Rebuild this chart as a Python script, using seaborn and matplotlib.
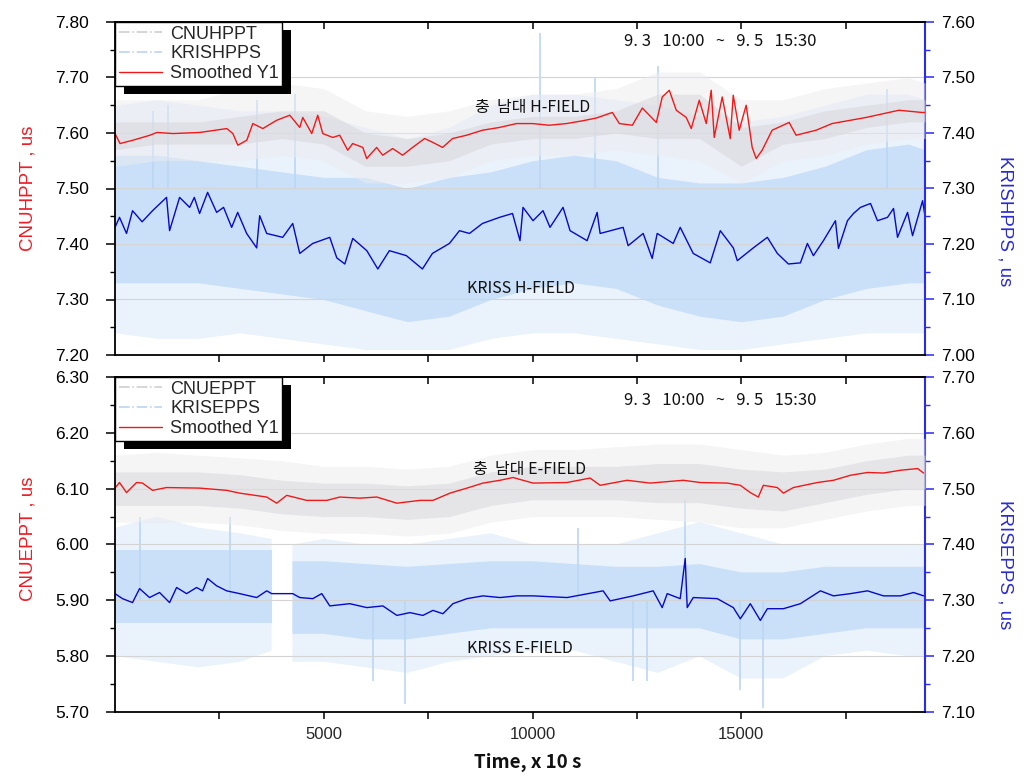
import numpy as np
import matplotlib
matplotlib.use("Agg")
import matplotlib.pyplot as plt
import seaborn as sns
from matplotlib.lines import Line2D
from matplotlib.patches import Rectangle
from matplotlib.transforms import IdentityTransform
from matplotlib.ticker import MultipleLocator, FixedLocator, FormatStrFormatter

# ---------------- data ----------------
X_MAX = 19400
x_major = [5000, 10000, 15000]
x_minor = [2500, 7500, 12500, 17500]

# envelope grid for the raw (noisy) records
x_env = [0, 1000, 2000, 3000, 4000, 5000, 6000, 7000, 8000, 9000, 10000,
         11000, 12000, 13000, 14000, 15000, 16000, 17000, 18000, 19000, 19400]

# ---- top panel (H-FIELD) ----
# CNUHPPT raw envelope (left axis, us)
cnuh_core_hi = [7.62, 7.62, 7.62, 7.63, 7.64, 7.64, 7.60, 7.59, 7.60, 7.62, 7.63,
                7.63, 7.64, 7.67, 7.67, 7.61, 7.62, 7.64, 7.65, 7.66, 7.66]
cnuh_core_lo = [7.57, 7.58, 7.58, 7.58, 7.59, 7.58, 7.54, 7.54, 7.55, 7.58, 7.59,
                7.59, 7.60, 7.59, 7.59, 7.54, 7.58, 7.59, 7.61, 7.62, 7.62]
cnuh_out_hi = [7.66, 7.66, 7.66, 7.68, 7.69, 7.68, 7.64, 7.63, 7.64, 7.66, 7.67,
               7.67, 7.68, 7.71, 7.71, 7.66, 7.66, 7.68, 7.69, 7.70, 7.69]
cnuh_out_lo = [7.54, 7.55, 7.55, 7.55, 7.56, 7.55, 7.51, 7.51, 7.52, 7.55, 7.56,
               7.56, 7.57, 7.56, 7.55, 7.51, 7.55, 7.56, 7.58, 7.59, 7.59]
# KRISHPPS raw envelope (right axis, us)
krish_core_hi = [7.36, 7.36, 7.35, 7.34, 7.33, 7.32, 7.32, 7.30, 7.32, 7.33, 7.35,
                 7.36, 7.35, 7.32, 7.31, 7.31, 7.32, 7.34, 7.37, 7.38, 7.37]
krish_core_lo = [7.13, 7.13, 7.13, 7.12, 7.11, 7.10, 7.08, 7.06, 7.07, 7.10, 7.12,
                 7.13, 7.12, 7.09, 7.07, 7.06, 7.07, 7.10, 7.12, 7.13, 7.13]
krish_out_hi = [7.45, 7.46, 7.45, 7.44, 7.44, 7.43, 7.41, 7.39, 7.41, 7.45, 7.47,
                7.47, 7.46, 7.45, 7.43, 7.42, 7.43, 7.45, 7.47, 7.47, 7.46]
krish_out_lo = [7.04, 7.03, 7.03, 7.04, 7.03, 7.02, 7.01, 7.01, 7.01, 7.03, 7.04,
                7.04, 7.03, 7.02, 7.01, 7.01, 7.02, 7.03, 7.04, 7.04, 7.04]
# isolated tall KRISHPPS spikes (x, low end, high end; right axis)
krish_spike_x = [900, 1270, 3390, 4300, 10180, 11500, 13000, 18500]
krish_spike_lo = [7.30, 7.30, 7.30, 7.30, 7.30, 7.30, 7.30, 7.30]
krish_spike_hi = [7.44, 7.45, 7.46, 7.47, 7.58, 7.50, 7.52, 7.48]

# Smoothed CNUHPPT (left axis)
h_red_x = [0, 120, 430, 837, 1005, 1387, 2033, 2679, 2823, 2943, 3157, 3301, 3540,
           3875, 4186, 4425, 4497, 4712, 4856, 4976, 5215, 5382, 5574, 5693, 5935,
           6028, 6267, 6411, 6650, 6889, 7128, 7415, 7614, 7846, 8085, 8420, 8803,
           9209, 9616, 9999, 10400, 10812, 11200, 11530, 11912, 12080, 12391, 12630,
           12965, 13108, 13276, 13443, 13682, 13802, 13993, 14161, 14280, 14352,
           14543, 14735, 14807, 14950, 15117, 15261, 15357, 15500, 15739, 16146,
           16313, 16791, 17175, 17988, 18777, 19327, 19400]
h_red_y = [7.599, 7.581, 7.587, 7.596, 7.601, 7.599, 7.601, 7.608, 7.599, 7.578,
           7.587, 7.617, 7.608, 7.623, 7.632, 7.610, 7.628, 7.599, 7.632, 7.599,
           7.592, 7.596, 7.569, 7.581, 7.574, 7.554, 7.574, 7.560, 7.572, 7.560,
           7.574, 7.590, 7.583, 7.574, 7.590, 7.596, 7.605, 7.610, 7.617, 7.617,
           7.614, 7.617, 7.622, 7.627, 7.637, 7.617, 7.614, 7.645, 7.619, 7.665,
           7.677, 7.641, 7.628, 7.608, 7.659, 7.617, 7.677, 7.592, 7.665, 7.590,
           7.668, 7.605, 7.650, 7.574, 7.554, 7.569, 7.605, 7.619, 7.596, 7.605,
           7.617, 7.628, 7.641, 7.637, 7.637]
# Smoothed KRISHPPS (right axis)
h_blue_x = [0, 108, 276, 420, 650, 899, 1235, 1307, 1547, 1787, 1900, 2026, 2218,
            2434, 2600, 2794, 2938, 3153, 3393, 3465, 3633, 4017, 4257, 4425, 4736,
            5144, 5312, 5504, 5695, 6031, 6295, 6571, 6979, 7363, 7602, 8010, 8250,
            8490, 8801, 9209, 9521, 9700, 9772, 10012, 10251, 10419, 10731, 10899,
            11307, 11547, 11619, 12170, 12290, 12650, 12866, 12986, 13370, 13537,
            13849, 14257, 14497, 14809, 14905, 15288, 15624, 15864, 16128, 16416,
            16583, 16727, 16967, 17255, 17327, 17543, 17687, 17855, 18095, 18262,
            18502, 18646, 18742, 18982, 19102, 19342, 19400]
h_blue_y = [7.230, 7.248, 7.219, 7.260, 7.240, 7.260, 7.284, 7.224, 7.284, 7.266,
            7.284, 7.255, 7.293, 7.257, 7.266, 7.230, 7.257, 7.219, 7.193, 7.251,
            7.219, 7.212, 7.237, 7.183, 7.201, 7.212, 7.175, 7.164, 7.210, 7.188,
            7.155, 7.188, 7.179, 7.155, 7.183, 7.201, 7.224, 7.219, 7.237, 7.248,
            7.255, 7.206, 7.266, 7.242, 7.260, 7.230, 7.266, 7.224, 7.206, 7.257,
            7.219, 7.230, 7.197, 7.219, 7.174, 7.219, 7.201, 7.230, 7.183, 7.166,
            7.224, 7.193, 7.170, 7.193, 7.212, 7.183, 7.164, 7.166, 7.201, 7.179,
            7.206, 7.242, 7.192, 7.242, 7.255, 7.266, 7.273, 7.242, 7.248, 7.264,
            7.212, 7.257, 7.215, 7.278, 7.250]

# ---- bottom panel (E-FIELD) ----
cnue_core_hi = [6.13, 6.13, 6.13, 6.125, 6.115, 6.11, 6.11, 6.105, 6.11, 6.13, 6.14,
                6.14, 6.14, 6.145, 6.145, 6.135, 6.13, 6.135, 6.15, 6.16, 6.16]
cnue_core_lo = [6.07, 6.07, 6.07, 6.065, 6.055, 6.05, 6.05, 6.045, 6.05, 6.07, 6.08,
                6.08, 6.08, 6.075, 6.075, 6.065, 6.06, 6.075, 6.09, 6.10, 6.10]
cnue_out_hi = [6.16, 6.165, 6.16, 6.155, 6.15, 6.14, 6.14, 6.135, 6.14, 6.16, 6.17,
               6.17, 6.175, 6.18, 6.18, 6.17, 6.16, 6.165, 6.18, 6.19, 6.19]
cnue_out_lo = [6.04, 6.04, 6.04, 6.035, 6.025, 6.02, 6.02, 6.015, 6.02, 6.04, 6.05,
               6.05, 6.05, 6.045, 6.04, 6.03, 6.03, 6.045, 6.06, 6.07, 6.07]

# KRISEPPS raw envelope (right axis); no record between ~3750 and ~4250
x_env_k = [0, 1000, 2000, 3000, 3750, 4000, 4250, 5000, 6000, 7000, 8000, 9000,
           10000, 11000, 12000, 13000, 14000, 15000, 16000, 17000, 18000, 19000, 19400]
krise_core_hi = [7.39, 7.39, 7.39, 7.39, 7.39, np.nan, 7.37, 7.37, 7.365, 7.36, 7.365,
                 7.37, 7.37, 7.365, 7.36, 7.36, 7.365, 7.35, 7.35, 7.36, 7.36, 7.36, 7.36]
krise_core_lo = [7.26, 7.26, 7.26, 7.26, 7.26, np.nan, 7.24, 7.24, 7.23, 7.23, 7.24,
                 7.25, 7.25, 7.25, 7.25, 7.25, 7.25, 7.23, 7.23, 7.24, 7.25, 7.25, 7.25]
krise_out_hi = [7.43, 7.45, 7.43, 7.42, 7.41, np.nan, 7.40, 7.41, 7.40, 7.40, 7.41,
                7.42, 7.40, 7.40, 7.40, 7.42, 7.44, 7.42, 7.40, 7.40, 7.40, 7.40, 7.40]
krise_out_lo = [7.20, 7.19, 7.18, 7.19, 7.21, np.nan, 7.19, 7.19, 7.18, 7.17, 7.19,
                7.20, 7.21, 7.21, 7.19, 7.17, 7.20, 7.16, 7.16, 7.20, 7.21, 7.20, 7.20]
# isolated KRISEPPS spikes (x, low end, high end; right axis)
krise_spike_x = [600, 2750, 6175, 6940, 11100, 12400, 12750, 13660, 14970, 15530]
krise_spike_lo = [7.30, 7.30, 7.156, 7.114, 7.30, 7.156, 7.156, 7.30, 7.140, 7.107]
krise_spike_hi = [7.45, 7.45, 7.30, 7.30, 7.43, 7.30, 7.30, 7.48, 7.30, 7.30]

e_red_x = [0, 108, 276, 516, 659, 899, 1235, 2026, 2674, 2986, 3633, 3873, 4113,
           4592, 5072, 5384, 5863, 6271, 6751, 7302, 7614, 8022, 8429, 8813, 9221,
           9533, 10012, 10827, 11379, 11619, 12266, 12818, 13609, 14017, 14665,
           14977, 15216, 15408, 15528, 15864, 16008, 16248, 16823, 17207, 17615,
           18023, 18406, 18814, 19222, 19366]
e_red_y = [6.101, 6.111, 6.093, 6.111, 6.110, 6.097, 6.102, 6.101, 6.097, 6.092,
           6.085, 6.074, 6.088, 6.079, 6.079, 6.085, 6.083, 6.085, 6.074, 6.079,
           6.079, 6.092, 6.101, 6.110, 6.115, 6.120, 6.110, 6.111, 6.119, 6.106,
           6.115, 6.110, 6.115, 6.111, 6.110, 6.106, 6.093, 6.085, 6.106, 6.102,
           6.092, 6.102, 6.111, 6.115, 6.124, 6.129, 6.128, 6.133, 6.136, 6.128]
e_blue_x = [0, 180, 420, 588, 827, 1067, 1307, 1475, 1715, 1954, 2098, 2218, 2434,
            2674, 2986, 3393, 3633, 3753, 4257, 4425, 4736, 4952, 5144, 5623, 6031,
            6415, 6751, 7063, 7374, 7614, 7854, 8094, 8429, 8813, 9221, 9629, 10012,
            10827, 11691, 11859, 12410, 12890, 13106, 13226, 13537, 13657, 13705,
            13849, 14425, 14809, 14977, 15216, 15456, 15624, 16008, 16416, 16895,
            17207, 17615, 18023, 18406, 18814, 19126, 19366]
e_blue_y = [7.312, 7.303, 7.296, 7.321, 7.305, 7.314, 7.296, 7.323, 7.312, 7.323,
            7.317, 7.339, 7.326, 7.317, 7.312, 7.305, 7.317, 7.312, 7.312, 7.305,
            7.303, 7.312, 7.290, 7.294, 7.287, 7.290, 7.273, 7.278, 7.273, 7.282,
            7.276, 7.294, 7.303, 7.308, 7.305, 7.308, 7.308, 7.305, 7.317, 7.299,
            7.308, 7.317, 7.287, 7.312, 7.303, 7.375, 7.287, 7.305, 7.303, 7.287,
            7.267, 7.294, 7.264, 7.285, 7.285, 7.294, 7.317, 7.308, 7.312, 7.317,
            7.308, 7.308, 7.314, 7.308]

# ---------------- styling ----------------
sns.set_theme(style="white")
plt.rcParams["font.family"] = ["Liberation Sans", "Noto Sans CJK KR", "DejaVu Sans"]
plt.rcParams["ytick.major.pad"] = 12
plt.rcParams["xtick.major.pad"] = 6
KR = ["Noto Sans CJK KR", "DejaVu Sans"]

RED = "#f01818"
BLUE = "#0808c8"
AXBLUE = "#2a2af0"
GRAY_CORE = "#d8d8dc"
GRAY_OUT = "#ececef"
LB_CORE = "#c9e0f8"
LB_OUT = "#eaf2fc"
LB_SPIKE = "#bcd6f3"

fig = plt.figure(figsize=(10.33, 7.79), dpi=100)
fig.patch.set_facecolor("white")


def panel(rect, yl, yr, cnu, kris, spikes, red, blue, names, ylab_l, ylab_r,
          lab_l_y, lab_r_y, texts, bottom_labels):
    ax = fig.add_axes(rect)
    ax2 = ax.twinx()
    ax.set_zorder(3)
    ax.patch.set_visible(False)
    ax2.set_facecolor("white")

    # KRIS raw envelope + spikes + smoothed (right axis)
    kx, kc_hi, kc_lo, ko_hi, ko_lo = kris
    ax2.fill_between(kx, ko_lo, ko_hi, color=LB_OUT, lw=0, zorder=0.5)
    ax2.fill_between(kx, kc_lo, kc_hi, color=LB_CORE, lw=0, zorder=0.6)
    sx, slo, shi = spikes
    ax2.vlines(sx, slo, shi, color=LB_SPIKE, lw=1.2, zorder=0.7)
    sns.lineplot(x=blue[0], y=blue[1], ax=ax2, color=BLUE, lw=1.0, estimator=None,
                 legend=False, zorder=2)

    # CNU raw envelope + smoothed (left axis)
    cx, cc_hi, cc_lo, co_hi, co_lo = cnu
    ax.fill_between(cx, co_lo, co_hi, color=GRAY_OUT, lw=0, alpha=0.5, zorder=0.5)
    ax.fill_between(cx, cc_lo, cc_hi, color=GRAY_CORE, lw=0, alpha=0.55, zorder=0.6)
    sns.lineplot(x=red[0], y=red[1], ax=ax, color=RED, lw=1.0, estimator=None,
                 legend=False, zorder=2)

    ax.set_xlim(0, X_MAX)
    ax.set_ylim(*yl)
    ax2.set_ylim(*yr)

    # grid (drawn on the right-hand axes, same positions, above the raw bands)
    ax.grid(False)
    ax2.set_axisbelow("line")
    ax2.grid(True, axis="y", which="major", color="#d4d4d4", lw=0.8)
    ax2.grid(False, axis="x")

    # spines
    for s in ["left", "bottom", "top"]:
        ax.spines[s].set_color("black")
        ax.spines[s].set_linewidth(1.3)
    ax.spines["right"].set_visible(False)
    for s in ["left", "bottom", "top"]:
        ax2.spines[s].set_visible(False)
    ax2.spines["right"].set_color(AXBLUE)
    ax2.spines["right"].set_linewidth(1.5)

    # x ticks
    ax.xaxis.set_major_locator(FixedLocator(x_major))
    ax.xaxis.set_minor_locator(FixedLocator(x_minor))
    ax.tick_params(axis="x", which="both", bottom=True, top=False, direction="out",
                   length=5, width=1.1, color="black", labelsize=12,
                   labelbottom=bottom_labels)
    sec = ax.secondary_xaxis("top")
    sec.set_xticks(x_major + x_minor)
    sec.tick_params(axis="x", direction="in", length=5, width=1.1, color="black",
                    labeltop=False)
    sec.spines["top"].set_linewidth(1.3)

    # y ticks
    for a, col in [(ax, "black"), (ax2, AXBLUE)]:
        a.yaxis.set_major_locator(MultipleLocator(0.1))
        a.yaxis.set_minor_locator(MultipleLocator(0.05))
        a.yaxis.set_major_formatter(FormatStrFormatter("%.2f"))
        a.tick_params(axis="y", which="major", length=6.5, width=1.1, direction="out",
                      color=col, labelcolor="black", labelsize=12.5)
        a.tick_params(axis="y", which="minor", length=3.5, width=1.0, direction="out",
                      color=col)
    ax.tick_params(axis="y", which="both", left=True, right=False)
    ax2.tick_params(axis="y", which="both", right=True, left=False)
    ax.yaxis.set_tick_params(which="major", pad=12)
    ax2.yaxis.set_tick_params(which="major", pad=5)

    # axis labels
    ax.set_ylabel(ylab_l, color="#ee1c25", fontsize=13.5, va="center")
    ax.yaxis.set_label_coords(-0.1074, lab_l_y)
    ax2.set_ylabel(ylab_r, color="#2b2bd6", fontsize=13.5, rotation=270, va="center")
    ax2.yaxis.set_label_coords(1.099, lab_r_y)

    # annotations
    for (tx, ty, s, fs) in texts:
        ax.text(tx, ty, s, transform=ax.transAxes, ha="center", va="center",
                fontsize=fs, family=KR, color="#111111", zorder=6)

    # legend
    handles = [Line2D([], [], color="#cfcfd4", lw=1.2, ls="-."),
               Line2D([], [], color="#bcd4f0", lw=1.2, ls="-."),
               Line2D([], [], color=RED, lw=1.0)]
    leg = ax.legend(handles, names, loc="upper left", bbox_to_anchor=(0, 1),
                    borderaxespad=0, frameon=True, fancybox=False, edgecolor="black",
                    framealpha=1, fontsize=13, handlelength=2.4, labelspacing=0.15,
                    borderpad=0.2, handletextpad=0.45)
    leg.get_frame().set_linewidth(1.0)
    leg.set_zorder(10)
    return ax, ax2, leg


top_rect = [115 / 1033, 1 - 355 / 779, 810 / 1033, 333 / 779]
bot_rect = [115 / 1033, 1 - 712 / 779, 810 / 1033, 335 / 779]

DATE = "9. 3   10:00   ~   9. 5   15:30"

axT, axT2, legT = panel(
    top_rect, (7.2, 7.8), (7.0, 7.6),
    (x_env, cnuh_core_hi, cnuh_core_lo, cnuh_out_hi, cnuh_out_lo),
    (x_env, krish_core_hi, krish_core_lo, krish_out_hi, krish_out_lo),
    (krish_spike_x, krish_spike_lo, krish_spike_hi),
    (h_red_x, h_red_y), (h_blue_x, h_blue_y),
    ["CNUHPPT", "KRISHPPS", "Smoothed Y1"], "CNUHPPT , us", "KRISHPPS , us",
    0.5, 0.402,
    [(0.747, 0.94, DATE, 12),
     (0.515, 0.742, "충  남대 H-FIELD", 11.5),
     (0.501, 0.201, "KRISS H-FIELD", 11.5)],
    False)

axB, axB2, legB = panel(
    bot_rect, (5.7, 6.3), (7.1, 7.7),
    (x_env, cnue_core_hi, cnue_core_lo, cnue_out_hi, cnue_out_lo),
    (x_env_k, krise_core_hi, krise_core_lo, krise_out_hi, krise_out_lo),
    (krise_spike_x, krise_spike_lo, krise_spike_hi),
    (e_red_x, e_red_y), (e_blue_x, e_blue_y),
    ["CNUEPPT", "KRISEPPS", "Smoothed Y1"], "CNUEPPT , us", "KRISEPPS , us",
    0.516, 0.439,
    [(0.747, 0.931, DATE, 12),
     (0.512, 0.725, "충  남대 E-FIELD", 11.5),
     (0.50, 0.191, "KRISS E-FIELD", 11.5)],
    True)

axB.set_xlabel("Time, x 10 s", fontsize=13.5, fontweight="bold", family=KR,
               va="center", color="#111111")
axB.xaxis.set_label_coords(0.51, -0.149)

# black drop shadow behind each legend box (as in the reference)
fig.canvas.draw()
for ax, leg in [(axT, legT), (axB, legB)]:
    bb = leg.get_window_extent()
    sh = Rectangle((bb.x0 + 9, bb.y0 - 8), bb.width, bb.height,
                   transform=IdentityTransform(), facecolor="black",
                   edgecolor="none", zorder=9, clip_on=False)
    ax.add_artist(sh)

fig.savefig("out.png", dpi=100, facecolor="white")
